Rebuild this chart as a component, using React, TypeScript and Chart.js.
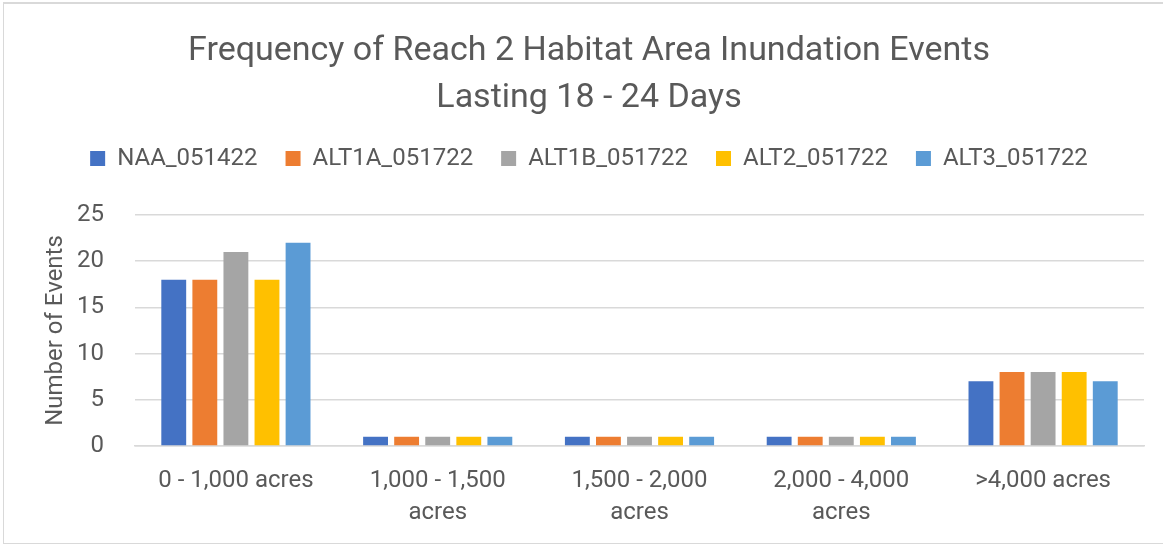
import React, { useEffect, useRef } from "react";
import { Chart, registerables } from "chart.js";

Chart.register(...registerables);

const categories: string[][] = [
  ["0 - 1,000 acres"],
  ["1,000 - 1,500", "acres"],
  ["1,500 - 2,000", "acres"],
  ["2,000 - 4,000", "acres"],
  [">4,000 acres"],
];
const seriesNames = ["NAA_051422", "ALT1A_051722", "ALT1B_051722", "ALT2_051722", "ALT3_051722"];
const naa = [18, 1, 1, 1, 7];
const alt1a = [18, 1, 1, 1, 8];
const alt1b = [21, 1, 1, 1, 8];
const alt2 = [18, 1, 1, 1, 8];
const alt3 = [22, 1, 1, 1, 7];
const seriesColors = ["#4472C4", "#ED7D31", "#A5A5A5", "#FFC000", "#5B9BD5"];
const yTicks = [0, 5, 10, 15, 20, 25];
const titleLines = ["Frequency of Reach 2 Habitat Area Inundation Events", "Lasting 18 - 24 Days"];
const yTitle = "Number of Events";

const FONT = "Roboto, sans-serif";
const TEXT = "#595959";

export default function App() {
  const ref = useRef<HTMLCanvasElement | null>(null);
  useEffect(() => {
    if (!ref.current) return;
    const values = [naa, alt1a, alt1b, alt2, alt3];
    const chart = new Chart(ref.current, {
      type: "bar",
      data: {
        labels: categories,
        datasets: seriesNames.map((name, i) => ({
          label: name,
          data: values[i],
          backgroundColor: seriesColors[i],
          borderWidth: 0,
          barPercentage: 0.8,
          categoryPercentage: 0.77,
        })),
      },
      options: {
        animation: false,
        responsive: false,
        maintainAspectRatio: false,
        layout: { padding: { left: 30, right: 15, top: 0, bottom: -9 } },
        plugins: {
          tooltip: { enabled: false },
          title: {
            display: true,
            text: titleLines,
            color: TEXT,
            font: { family: FONT, size: 34, weight: "normal", lineHeight: 47 / 34 },
            padding: { top: 23.5, bottom: -3 },
          },
          legend: {
            display: true,
            labels: {
              color: TEXT,
              font: { family: FONT, size: 24 },
              boxWidth: 15,
              boxHeight: 15,
              padding: 28,
            },
          },
          subtitle: {
            display: true,
            text: "",
            weight: 500,
            font: { size: 10, lineHeight: 1 },
            padding: { top: 24.5, bottom: 0 },
          },
        },
        scales: {
          x: {
            grid: { display: false, drawTicks: false },
            border: { display: true, color: "#d9d9d9", width: 1.5 },
            ticks: {
              color: TEXT,
              font: { family: FONT, size: 24, lineHeight: 32 / 24 },
              padding: 19,
              maxRotation: 0,
              autoSkip: false,
            },
          },
          y: {
            min: 0,
            max: 25,
            afterBuildTicks: (axis: any) => {
              axis.ticks = yTicks.map((v) => ({ value: v }));
            },
            grid: { color: "#d9d9d9", lineWidth: 1.5, drawTicks: false },
            border: { display: false },
            ticks: {
              color: TEXT,
              font: { family: FONT, size: 24 },
              padding: 31,
            },
            title: {
              display: true,
              text: yTitle,
              color: TEXT,
              font: { family: FONT, size: 24 },
              padding: { top: 8, bottom: 0 },
            },
            afterFit: (scale: any) => {
              scale.width = 101;
            },
          },
        },
      },
    });
    return () => chart.destroy();
  }, []);
  return (
    <div style={{ position: "fixed", left: 0, top: 0, width: 1163, height: 544, overflow: "hidden", background: "#fff" }}>
      <div
        style={{
          position: "absolute",
          left: 3,
          top: 2,
          width: 1170,
          height: 542,
          border: "1px solid #d9d9d9",
          borderTopWidth: 2,
          boxSizing: "border-box",
          background: "#fff",
        }}
      >
        <canvas ref={ref} width={1155} height={535} style={{ display: "block" }} />
      </div>
    </div>
  );
}
